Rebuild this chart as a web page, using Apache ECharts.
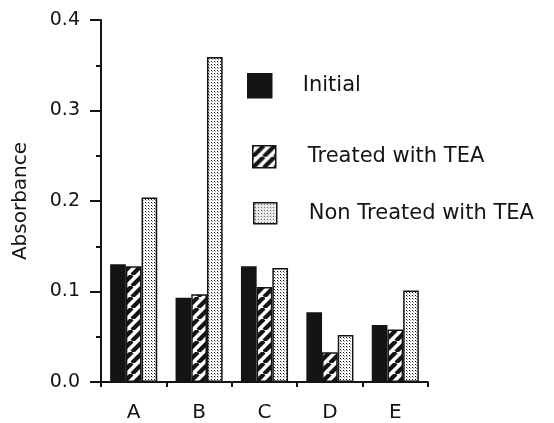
<!DOCTYPE html>
<html>
<head>
<meta charset="utf-8">
<script src="https://cdn.jsdelivr.net/npm/echarts@6/dist/echarts.min.js"></script>
<style>html,body{margin:0;background:#fff}#main{width:554px;height:423px}</style>
</head>
<body>
<div id="main"></div>
<script>
const categories = ['A', 'B', 'C', 'D', 'E'];
const initial = [0.130, 0.093, 0.128, 0.077, 0.063];
const treated = [0.128, 0.097, 0.105, 0.033, 0.058];
const nonTreated = [0.204, 0.359, 0.126, 0.052, 0.101];
const seriesNames = ['Initial', 'Treated with TEA', 'Non Treated with TEA'];

const font = 'DejaVu Sans';
const ink = '#141414';

// hatched tile: "/" stripes
const hatch = () => {
  const s = 11;
  const c = document.createElement('canvas');
  c.width = s; c.height = s;
  const ctx = c.getContext('2d');
  ctx.fillStyle = '#fff';
  ctx.fillRect(0, 0, s, s);
  ctx.strokeStyle = ink;
  ctx.lineWidth = 4.2;
  [-s, 0, s].forEach(x0 => {
    ctx.beginPath();
    ctx.moveTo(x0, s);
    ctx.lineTo(x0 + s, 0);
    ctx.stroke();
  });
  return c;
};

// fine stipple tile
const dots = () => {
  const c = document.createElement('canvas');
  c.width = 3; c.height = 3;
  const ctx = c.getContext('2d');
  ctx.fillStyle = '#fff';
  ctx.fillRect(0, 0, 3, 3);
  ctx.fillStyle = '#111';
  ctx.fillRect(1, 1, 1, 1);
  ctx.fillStyle = '#999';
  ctx.fillRect(2, 2, 1, 1);
  return c;
};

const fills = [ink, {image: hatch(), repeat: 'repeat'}, {image: dots(), repeat: 'repeat'}];
const values = [initial, treated, nonTreated];

const myChart = echarts.init(document.getElementById('main'));

const legendBase = {
  orient: 'vertical',
  icon: 'rect',
  padding: 0,
  selectedMode: false,
  itemStyle: {borderColor: ink, borderWidth: 1.5},
  textStyle: {fontFamily: font, fontSize: 21, color: ink}
};

myChart.setOption({
  animation: false,
  backgroundColor: '#fff',
  legend: [
    Object.assign({}, legendBase, {data: [seriesNames[0]], left: 247, top: 73, itemWidth: 24, itemHeight: 24,
      textStyle: Object.assign({}, legendBase.textStyle, {padding: [0, 0, 0, 26]})}),
    Object.assign({}, legendBase, {data: [seriesNames[1]], left: 252, top: 145, itemWidth: 23, itemHeight: 22,
      textStyle: Object.assign({}, legendBase.textStyle, {padding: [0, 0, 0, 27]})}),
    Object.assign({}, legendBase, {data: [seriesNames[2]], left: 253, top: 202, itemWidth: 23, itemHeight: 21,
      textStyle: Object.assign({}, legendBase.textStyle, {padding: [0, 0, 0, 27]})})
  ],
  grid: {left: 101, right: 126, top: 20, bottom: 41},
  xAxis: {
    type: 'category',
    data: categories,
    axisLine: {lineStyle: {color: ink, width: 2}},
    axisTick: {show: true, length: 5, lineStyle: {color: ink, width: 2}},
    axisLabel: {margin: 21, fontFamily: font, fontSize: 20, color: ink}
  },
  yAxis: {
    type: 'value',
    min: 0,
    max: 0.4,
    interval: 0.1,
    name: 'Absorbance',
    nameLocation: 'middle',
    nameGap: 70,
    nameTextStyle: {fontFamily: font, fontSize: 20, color: ink},
    axisLine: {show: true, lineStyle: {color: ink, width: 2}},
    axisTick: {show: true, length: 11, lineStyle: {color: ink, width: 2}},
    minorTick: {show: true, splitNumber: 2, length: 5, lineStyle: {color: ink, width: 2}},
    splitLine: {show: false},
    axisLabel: {margin: 21, fontFamily: font, fontSize: 19, color: ink, formatter: v => v.toFixed(1)}
  },
  series: seriesNames.map((name, i) => ({
    name: name,
    type: 'bar',
    data: values[i],
    barGap: '0%',
    barCategoryGap: '28%',
    itemStyle: {color: fills[i], borderColor: ink, borderWidth: 1.5},
    emphasis: {disabled: true}
  }))
});

window.onresize = () => {
  myChart.resize();
};
</script>
</body>
</html>
